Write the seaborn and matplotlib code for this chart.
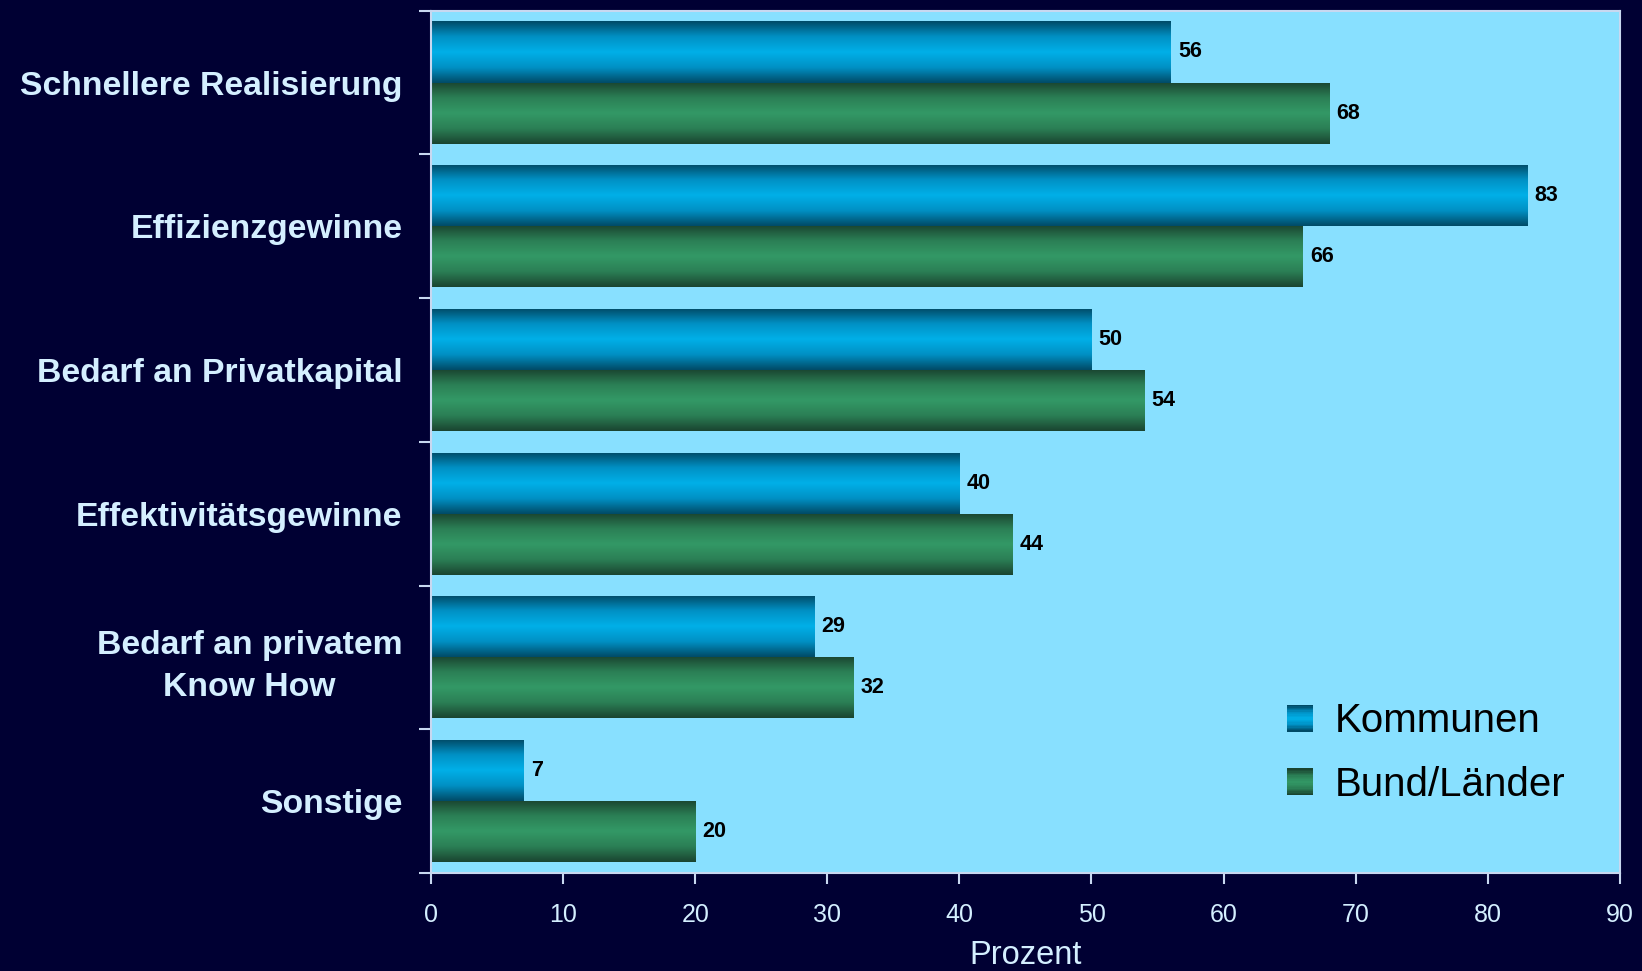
import numpy as np
import pandas as pd
import matplotlib
matplotlib.use("Agg")
import matplotlib.pyplot as plt
import seaborn as sns
from matplotlib.patches import Rectangle
from matplotlib.legend_handler import HandlerBase
from matplotlib.colors import LinearSegmentedColormap

categories = ["Schnellere Realisierung", "Effizienzgewinne", "Bedarf an Privatkapital",
              "Effektivitätsgewinne", "Bedarf an privatem\nKnow How", "Sonstige"]
series = ["Kommunen", "Bund/Länder"]
kommunen = [56, 83, 50, 40, 29, 7]
bund_laender = [68, 66, 54, 44, 32, 20]
xticks = [0, 10, 20, 30, 40, 50, 60, 70, 80, 90]

df = pd.DataFrame({
    "Kategorie": categories * 2,
    "Serie": [series[0]] * len(categories) + [series[1]] * len(categories),
    "Prozent": kommunen + bund_laender,
})

BG = "#000033"
PLOT_BG = "#88e0ff"
TXT = "#d4efff"
SPINE = "#c8d8f0"
grad = {
    "Kommunen": ["#004a66", "#0090c4", "#00b0e8", "#0090c4", "#004a66"],
    "Bund/Länder": ["#1a4430", "#2b7f55", "#339966", "#2b7f55", "#1a4430"],
}
mid = {"Kommunen": "#00b0e8", "Bund/Länder": "#339966"}

sns.set_theme(style="white")
plt.rcParams["font.family"] = ["Liberation Sans", "DejaVu Sans"]

fig = plt.figure(figsize=(16.42, 9.71), dpi=100, facecolor=BG)
ax = fig.add_axes([0.2625, 0.101, 0.724, 0.888])
ax.set_facecolor(PLOT_BG)

sns.barplot(data=df, y="Kategorie", x="Prozent", hue="Serie", orient="h",
            palette=mid, width=0.85, saturation=1, ax=ax, legend=False, linewidth=0)

ax.set_xlim(0, 90)
ax.set_ylim(len(categories) - 0.5, -0.5)

# gradient fill on bars
for cont, s in zip(ax.containers, series):
    cmap = LinearSegmentedColormap.from_list(s, grad[s])
    g = np.linspace(0, 1, 256).reshape(-1, 1)
    for bar in cont:
        bar.set_linewidth(0)
        x0, y0 = bar.get_x(), bar.get_y()
        w, h = bar.get_width(), bar.get_height()
        im = ax.imshow(g, cmap=cmap, aspect="auto", extent=(x0, x0 + w, y0 + h, y0),
                       origin="upper", zorder=bar.get_zorder() + 0.1, interpolation="bicubic")
        im.set_clip_path(bar)
        ax.text(x0 + w + 0.55, y0 + h / 2, f"{int(round(w))}", va="center", ha="left",
                fontsize=15.5, fontweight="bold", color="black", zorder=5)
ax.set_xlim(0, 90)
ax.set_ylim(len(categories) - 0.5, -0.5)

# axes styling
for sp in ax.spines.values():
    sp.set_color(SPINE)
    sp.set_linewidth(1.5)
ax.set_xticks(xticks)
ax.set_xticklabels([str(t) for t in xticks], fontsize=18, color=TXT)
ax.tick_params(axis="x", direction="out", length=8, width=1.5, color=SPINE, pad=14, bottom=True)
ax.set_yticks(range(len(categories)))
ax.set_yticklabels(categories, fontsize=24.3, fontweight="bold", color=TXT,
                   ha="right", multialignment="center", linespacing=1.45)
ax.tick_params(axis="y", which="major", length=0, pad=20.5)
ax.set_yticks(np.arange(-0.5, len(categories), 1.0), minor=True)
ax.tick_params(axis="y", which="minor", direction="out", length=9, width=1.5, color=SPINE, left=True)
ax.set_xlabel("Prozent", fontsize=23.5, color=TXT, labelpad=9)
ax.set_ylabel("")
ax.grid(False)


class GradHandler(HandlerBase):
    def __init__(self, colors):
        super().__init__()
        self.colors = colors

    def create_artists(self, legend, orig_handle, xdescent, ydescent, width, height, fontsize, trans):
        cmap = LinearSegmentedColormap.from_list("lg", self.colors)
        n = 20
        arts = []
        size = height * 0.8
        x0 = -xdescent + (width - size) / 2
        y0 = -ydescent + (height - size) / 2
        for i in range(n):
            r = Rectangle((x0, y0 + size * i / n), size, size / n + 0.3,
                          facecolor=cmap(i / (n - 1)), edgecolor="none", transform=trans)
            arts.append(r)
        return arts


h1 = Rectangle((0, 0), 1, 1)
h2 = Rectangle((0, 0), 1, 1)
leg = ax.legend([h1, h2], series, loc="lower right", bbox_to_anchor=(0.985, 0.038),
                frameon=False, fontsize=29, handlelength=0.85, handleheight=0.9,
                handletextpad=0.45, labelspacing=0.62,
                handler_map={h1: GradHandler(grad["Kommunen"]), h2: GradHandler(grad["Bund/Länder"])})
for t in leg.get_texts():
    t.set_color("black")

fig.savefig("out.png", dpi=100, facecolor=BG)
